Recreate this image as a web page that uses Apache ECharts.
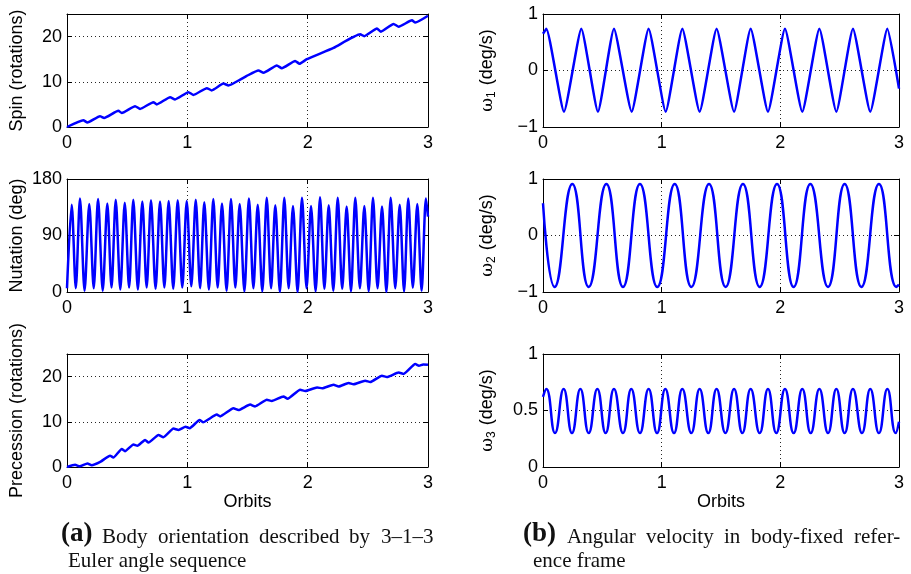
<!DOCTYPE html>
<html>
<head>
<meta charset="utf-8">
<script src="https://cdn.jsdelivr.net/npm/echarts@6/dist/echarts.min.js"></script>
<style>
  html, body { margin: 0; padding: 0; background: #fff; }
  #chart { width: 911px; height: 574px; }
</style>
</head>
<body>
<div id="chart"></div>
<script>
// 3x2 panels: Euler angles on the left, body rates on the right. Orbits on x.

const xTicks = [0, 1, 2, 3];

// spin (rotations)
const spinX = [0, 0.136, 0.169, 0.274, 0.308, 0.427, 0.455, 0.566, 0.607, 0.718, 0.746, 0.857, 0.898,
  1.009, 1.051, 1.162, 1.203, 1.300, 1.342, 1.439, 1.494, 1.591, 1.633, 1.744, 1.785, 1.896, 1.932,
  1.993, 2.215, 2.437, 2.470, 2.576, 2.609, 2.714, 2.756, 2.867, 2.894, 3.0];
const spinY = [0, 1.5, 1.0, 2.4, 2.0, 3.6, 3.1, 4.6, 4.0, 5.5, 5.0, 6.6, 6.1,
  7.7, 7.1, 8.6, 8.1, 9.6, 9.2, 10.5, 11.3, 12.5, 12.0, 13.6, 13.0, 14.6, 14.0,
  15.0, 17.5, 20.5, 20.1, 21.8, 21.1, 22.8, 22.2, 23.6, 23.1, 24.6];

// nutation (deg): peaks and troughs
const nutPeakX = [0.039, 0.108, 0.185, 0.258, 0.335, 0.405, 0.480, 0.551, 0.626, 0.698, 0.773, 0.845, 0.920,
  0.995, 1.070, 1.141, 1.216, 1.288, 1.363, 1.435, 1.512, 1.585, 1.660, 1.731, 1.806, 1.878, 1.953,
  2.028, 2.103, 2.175, 2.250, 2.324, 2.396, 2.471, 2.543, 2.618, 2.690, 2.765, 2.836, 2.911, 2.983];
const nutPeakY = [139, 149, 140, 148, 141, 147, 142, 147, 144, 146, 144, 145, 146,
  145, 147, 143, 148, 141, 148, 140, 149, 139, 150, 138, 150, 137, 150,
  137, 151, 138, 150, 136, 150, 137, 150, 136, 150, 139, 149, 140, 149];
const nutTroughX = [0.073, 0.146, 0.222, 0.297, 0.370, 0.443, 0.516, 0.589, 0.662, 0.736, 0.809, 0.883, 0.958,
  1.033, 1.106, 1.179, 1.252, 1.326, 1.399, 1.474, 1.549, 1.623, 1.696, 1.769, 1.842, 1.916, 1.991,
  2.066, 2.139, 2.213, 2.287, 2.360, 2.434, 2.507, 2.581, 2.654, 2.728, 2.801, 2.874, 2.947];
const nutTroughY = [6, 2, 6, 2, 7, 4, 7, 4, 7, 5, 7, 5, 7,
  9, 6, 4, 7, 2, 7, 1, 6, 1, 6, 0, 6, 0,
  6, 1, 5, 2, 5, 1, 6, 1, 6, 0, 6, 1, 7, 2];
const nutStart = [0, 6];
const nutEnd = [3, 120];

// precession (rotations)
const precX = [0, 0.067, 0.105, 0.170, 0.205, 0.280, 0.358, 0.385, 0.455, 0.482, 0.552, 0.585, 0.649, 0.677,
  0.760, 0.801, 0.885, 0.927, 0.985, 1.020, 1.102, 1.130, 1.245, 1.273, 1.383, 1.425, 1.522, 1.563,
  1.661, 1.702, 1.799, 1.833, 1.938, 1.980, 2.078, 2.120, 2.215, 2.257, 2.340, 2.381, 2.478, 2.520,
  2.617, 2.659, 2.756, 2.797, 2.894, 2.925, 2.960, 3.0];
const precY = [0, 0.5, 0.15, 0.8, 0.4, 1.2, 2.5, 2.1, 4.0, 3.5, 5.0, 4.7, 6.0, 5.4,
  7.1, 6.6, 8.5, 8.2, 8.9, 8.6, 10.4, 9.9, 11.6, 11.2, 13.0, 12.6, 13.8, 13.4,
  14.9, 14.6, 15.6, 15.1, 17.1, 16.8, 17.6, 17.4, 18.2, 17.8, 18.6, 18.3, 19.1, 18.8,
  20.2, 19.9, 20.9, 20.6, 22.8, 22.4, 22.7, 22.6];

// omega_1 (deg/s): extrema
const w1X = [0, 0.028, 0.177, 0.323, 0.463, 0.598, 0.747, 0.890, 1.034, 1.174, 1.320, 1.463,
  1.610, 1.750, 1.896, 2.039, 2.185, 2.329, 2.472, 2.612, 2.758, 2.902, 3.0];
const w1Y = [0.65, 0.74, -0.73, 0.74, -0.73, 0.74, -0.73, 0.74, -0.73, 0.74, -0.73, 0.74,
  -0.73, 0.74, -0.73, 0.74, -0.73, 0.74, -0.73, 0.74, -0.73, 0.74, -0.32];

// omega_2 (deg/s)
const w2X = [0, 0.098, 0.247, 0.385, 0.534, 0.674, 0.817, 0.963, 1.110, 1.250, 1.399, 1.539,
  1.685, 1.826, 1.972, 2.112, 2.253, 2.402, 2.542, 2.683, 2.831, 2.978, 3.0];
const w2Y = [0.57, -0.91, 0.91, -0.91, 0.91, -0.91, 0.91, -0.91, 0.91, -0.91, 0.91, -0.91,
  0.91, -0.91, 0.91, -0.91, 0.91, -0.91, 0.91, -0.91, 0.91, -0.91, -0.87];

// omega_3 (deg/s)
const w3PeakX = [0.028, 0.174, 0.315, 0.458, 0.598, 0.744, 0.890, 1.031, 1.174, 1.320, 1.463,
  1.610, 1.750, 1.896, 2.039, 2.185, 2.329, 2.472, 2.612, 2.758, 2.902];
const w3TroughX = [0.101, 0.244, 0.385, 0.528, 0.674, 0.817, 0.961, 1.104, 1.250, 1.393, 1.537,
  1.680, 1.826, 1.966, 2.112, 2.256, 2.402, 2.542, 2.688, 2.831, 2.972];
const w3Peak = 0.69;
const w3Trough = 0.30;
const w3Start = [0, 0.62];
const w3End = [3, 0.40];

// captions: first lines are justified
const capA1 = ['Body', 'orientation', 'described', 'by', '3\u20131\u20133'];
const capA2 = 'Euler angle sequence';
const capB1 = ['Angular', 'velocity', 'in', 'body-fixed', 'refer-'];
const capB2 = 'ence frame';

const zip = (xs, ys) => xs.map((x, i) => [x, ys[i]]);
function alternate(px, py, tx, ty, start, end) {
  const out = [start];
  for (let i = 0; i < px.length; i++) {
    out.push([px[i], Array.isArray(py) ? py[i] : py]);
    if (i < tx.length) out.push([tx[i], Array.isArray(ty) ? ty[i] : ty]);
  }
  out.push(end);
  return out.sort((a, b) => a[0] - b[0]);
}

const SANS = '"Liberation Sans", Arial, Helvetica, sans-serif';
const SERIF = '"Liberation Serif", "Times New Roman", serif';
const BLUE = '#0000ff';

const panels = [
  { grid: [67, 14, 361, 113], min: 0, max: 25, step: 10, name: 'Spin (rotations)', gap: 41,
    data: zip(spinX, spinY), smooth: 0.15 },
  { grid: [67, 179, 361, 113], min: 0, max: 180, step: 90, name: 'Nutation (deg)', gap: 41,
    data: alternate(nutPeakX, nutPeakY, nutTroughX, nutTroughY, nutStart, nutEnd), smooth: 0.3 },
  { grid: [67, 354, 361, 113], min: 0, max: 25, step: 10, name: 'Precession (rotations)', gap: 41,
    data: zip(precX, precY), smooth: 0.15, xName: 'Orbits' },
  { grid: [543, 14, 356, 113], min: -1, max: 1, step: 1, name: '{w|ω}{s|1} (deg/s)', gap: 45,
    data: zip(w1X, w1Y), smooth: 0.15 },
  { grid: [543, 179, 356, 113], min: -1, max: 1, step: 1, name: '{w|ω}{s|2} (deg/s)', gap: 45,
    data: zip(w2X, w2Y), smooth: 0.5 },
  { grid: [543, 354, 356, 113], min: 0, max: 1, step: 0.5, name: '{w|ω}{s|3} (deg/s)', gap: 45,
    data: alternate(w3PeakX, w3Peak, w3TroughX, w3Trough, w3Start, w3End), smooth: 0.5, xName: 'Orbits' },
];

const frameLine = { show: true, onZero: false, lineStyle: { color: '#000', width: 1 } };
const tick = { show: true, inside: true, length: 5, lineStyle: { color: '#000' } };
const dotted = { show: true, showMinLine: false, showMaxLine: false,
  lineStyle: { color: '#000', width: 1, type: [1, 3], opacity: 0.85 } };
const labelStyle = { color: '#000', fontSize: 18, fontFamily: SANS };

const grids = [], xAxes = [], yAxes = [], series = [];
panels.forEach((p, i) => {
  grids.push({ left: p.grid[0], top: p.grid[1], width: p.grid[2], height: p.grid[3] });
  const xi = xAxes.length, yi = yAxes.length;
  const yFmt = v => {
    const k = v / p.step;
    if (Math.abs(k - Math.round(k)) > 1e-6) return '';
    return String(v).replace('-', '\u2212');
  };
  xAxes.push({
    type: 'value', gridIndex: i, position: 'bottom', min: 0, max: 3, interval: 1,
    axisLine: frameLine, axisTick: tick, splitLine: dotted,
    axisLabel: { ...labelStyle, margin: 7, formatter: v => xTicks.includes(v) ? String(v) : '' },
    name: p.xName || '', nameLocation: 'middle', nameGap: 24,
    nameTextStyle: { color: '#000', fontSize: 18, fontFamily: SANS }
  });
  xAxes.push({
    type: 'value', gridIndex: i, position: 'top', min: 0, max: 3, interval: 1,
    axisLine: frameLine, axisTick: tick, axisLabel: { show: false }, splitLine: { show: false }
  });
  yAxes.push({
    type: 'value', gridIndex: i, position: 'left', min: p.min, max: p.max, interval: p.step,
    axisLine: frameLine, axisTick: tick, splitLine: dotted,
    axisLabel: { ...labelStyle, margin: 5, showMaxLabel: true, formatter: yFmt },
    name: p.name, nameLocation: 'middle', nameGap: p.gap, nameRotate: 90,
    nameTextStyle: {
      color: '#000', fontSize: 18, fontFamily: SANS,
      rich: {
        w: { fontSize: 17, fontFamily: '"DejaVu Serif", serif', color: '#000' },
        s: { fontSize: 12, fontFamily: SANS, color: '#000', padding: [9, 1, 0, 0] }
      }
    }
  });
  yAxes.push({
    type: 'value', gridIndex: i, position: 'right', min: p.min, max: p.max, interval: p.step,
    axisLine: frameLine, axisTick: tick, axisLabel: { show: false }, splitLine: { show: false }
  });
  series.push({
    type: 'line', xAxisIndex: xi, yAxisIndex: yi, data: p.data,
    showSymbol: false, smooth: p.smooth, clip: true,
    lineStyle: { color: BLUE, width: 2.5 }
  });
});

const capStyle = { fill: '#111', fontFamily: SERIF, fontSize: 21 };
const capBold = { fill: '#111', fontFamily: SERIF, fontSize: 27, fontWeight: 'bold' };

// spread the words of a justified line between x0 and x1
const measure = document.createElement('canvas').getContext('2d');
measure.font = '21px ' + SERIF;
function justify(words, x0, x1, top) {
  const widths = words.map(w => measure.measureText(w).width);
  const gap = (x1 - x0 - widths.reduce((a, b) => a + b, 0)) / (words.length - 1);
  let x = x0;
  return words.map((w, i) => {
    const el = { type: 'text', left: Math.round(x), top, style: { ...capStyle, text: w } };
    x += widths[i] + gap;
    return el;
  });
}

const graphics = [
  { type: 'text', left: 61, top: 521, style: { ...capBold, text: '(a)' } },
  { type: 'text', left: 68, top: 551, style: { ...capStyle, text: capA2 } },
  { type: 'text', left: 523, top: 521, style: { ...capBold, text: '(b)' } },
  { type: 'text', left: 533, top: 551, style: { ...capStyle, text: capB2 } },
  ...justify(capA1, 102, 433, 527),
  ...justify(capB1, 567, 900, 527)
];

const chart = echarts.init(document.getElementById('chart'), null, { renderer: 'canvas' });
chart.setOption({
  animation: false,
  backgroundColor: '#fff',
  grid: grids,
  xAxis: xAxes,
  yAxis: yAxes,
  series: series,
  graphic: graphics
});
</script>
</body>
</html>
